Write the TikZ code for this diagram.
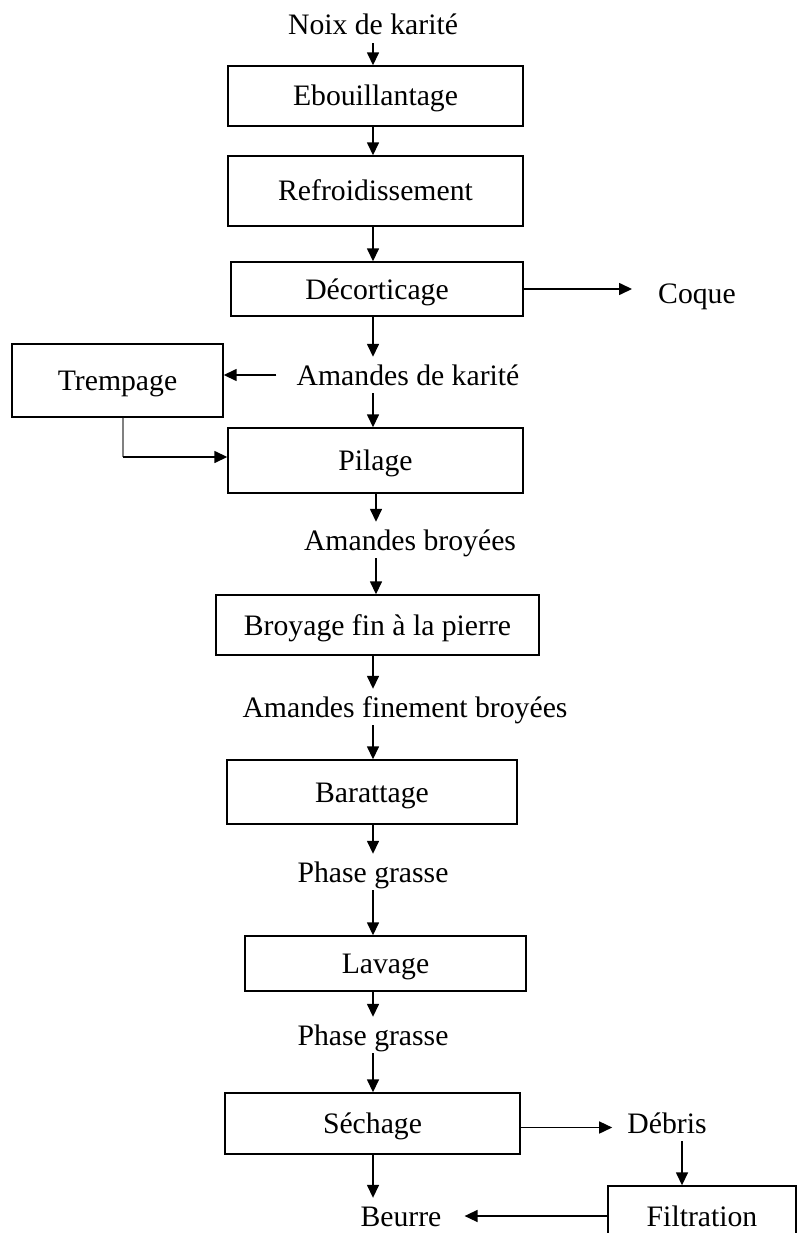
\documentclass[tikz,border=0pt]{standalone}
\usepackage{fontspec}
\setmainfont{Liberation Serif}
\usepackage{tikz}
\usetikzlibrary{calc}
\usetikzlibrary{arrows.meta}
\usetikzlibrary{positioning}

\tikzset{
  stepbox/.style={draw,line width=1.4pt,inner sep=0pt},
  lbl/.style={inner xsep=4pt,inner ysep=4pt},
  arr/.style={-{Triangle[length=13pt,width=12pt]},line width=1.5pt}
}

\begin{document}
\begin{tikzpicture}[x=1pt,y=-1pt,
  every node/.style={font=\fontsize{29.7}{34}\selectfont,text height=24pt,text depth=4pt}]
\useasboundingbox (0,0) rectangle (797,1233);
\coordinate (spine) at (373,0);
\coordinate (soak) at (123,457);

\node[lbl] (noix) at (373,25) {Noix de karité};
\node[stepbox,minimum width=295pt,minimum height=60pt] (ebou) at (375.5,96) {Ebouillantage};
\node[stepbox,minimum width=295pt,minimum height=70pt] (refr) at (375.5,191) {Refroidissement};
\node[stepbox,minimum width=292pt,minimum height=54pt] (deco) at (377,289) {Décorticage};
\node[lbl] (coque) at (697,293) {Coque};
\node[lbl] (amk) at (408,375) {Amandes de karité};
\node[stepbox,minimum width=211pt,minimum height=73pt] (tremp) at (117.5,380.5) {Trempage};
\node[stepbox,minimum width=295pt,minimum height=65pt] (pil) at (375.5,460.5) {Pilage};
\node[lbl] (amb) at (410,540) {Amandes broyées};
\node[stepbox,minimum width=323pt,minimum height=60pt] (broy) at (377.5,625) {Broyage fin à la pierre};
\node[lbl] (amfb) at (405,707) {Amandes finement broyées};
\node[stepbox,minimum width=290pt,minimum height=64pt] (bara) at (372,792) {Barattage};
\node[lbl] (pga) at (373,872) {Phase grasse};
\node[stepbox,minimum width=281pt,minimum height=55pt] (lav) at (385.5,963.5) {Lavage};
\node[lbl] (pgb) at (373,1035) {Phase grasse};
\node[stepbox,minimum width=295pt,minimum height=61pt] (sech) at (372.5,1123.5) {Séchage};
\node[lbl] (debris) at (667,1123) {Débris};
\node[stepbox,minimum width=188pt,minimum height=60pt] (filt) at (702,1216) {Filtration};
\node[lbl] (beurre) at (401,1216) {Beurre};

\draw[arr] (noix.south -| spine) -- (ebou.north -| spine);
\draw[arr] (ebou.south -| spine) -- (refr.north -| spine);
\draw[arr] (refr.south -| spine) -- (deco.north -| spine);
\draw[arr] (deco.south -| spine) -- (amk.north -| spine);
\draw[arr] (amk.south -| spine) -- (pil.north -| spine);
\draw[arr] ([xshift=3pt]pil.south -| spine) -- ([xshift=3pt]amb.north -| spine);
\draw[arr] ([xshift=3pt]amb.south -| spine) -- ([xshift=3pt]broy.north -| spine);
\draw[arr] (broy.south -| spine) -- (amfb.north -| spine);
\draw[arr] (amfb.south -| spine) -- (bara.north -| spine);
\draw[arr] (bara.south -| spine) -- (pga.north -| spine);
\draw[arr] (pga.south -| spine) -- (lav.north -| spine);
\draw[arr] (lav.south -| spine) -- (pgb.north -| spine);
\draw[arr] (pgb.south -| spine) -- (sech.north -| spine);
\draw[arr] (sech.south -| spine) -- (beurre.north -| spine);

\draw[arr,shorten >=22pt] (deco.east) -- (deco.east -| coque.west);
\draw[arr,shorten <=16pt] (amk.west) -- (amk.west -| tremp.east);
\draw[gray,line width=1.4pt] (tremp.south -| soak) -- (soak);
\draw[arr] (soak) -- (soak -| pil.west);
\draw[arr,shorten >=11pt] ([yshift=-4pt]sech.east) -- ([yshift=-4pt]sech.east -| debris.west);
\draw[arr] ([xshift=15pt]debris.south) -- ([xshift=15pt]debris.south |- filt.north);
\draw[arr,shorten >=19pt] (filt.west) -- (filt.west -| beurre.east);
\end{tikzpicture}
\end{document}
